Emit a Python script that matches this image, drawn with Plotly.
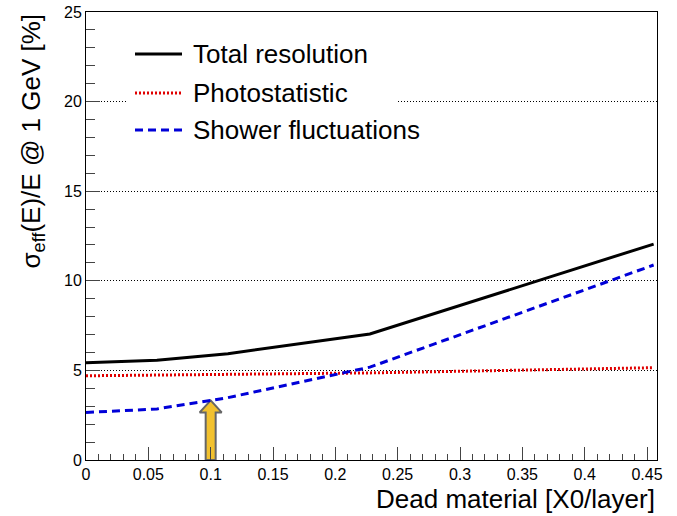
import numpy as np
import plotly.graph_objects as go

# Dead material per layer, in units of X0
dead_material = [0.0, 0.0569, 0.1138, 0.2277, 0.4553]

# Energy resolution contributions at 1 GeV [%]
total_resolution = [5.42, 5.57, 5.93, 7.03, 12.05]
photostatistic = [4.70, 4.74, 4.78, 4.86, 5.15]
shower_fluctuations = [2.65, 2.85, 3.48, 5.18, 10.88]

series_names = ["Total resolution", "Photostatistic", "Shower fluctuations"]

# Marked working point
marker_x = 0.1

x_range = [0, 0.458]
y_range = [0, 25]

W, H = 677, 516
ML, MR, MT, MB = 86, 20, 12, 56
PW, PH = W - ML - MR, H - MT - MB

FONT = "Liberation Sans, Arial, Helvetica, sans-serif"


def px_x(px):
    """page pixel -> paper x"""
    return (px - ML) / PW


def px_y(py):
    """page pixel -> paper y"""
    return (H - MB - py) / PH


x_per_px = (x_range[1] - x_range[0]) / PW
y_per_px = (y_range[1] - y_range[0]) / PH

styles = [
    dict(color="black", width=3, dash="solid"),
    dict(color="#E00000", width=3, dash="2px,2px"),
    dict(color="#0000D8", width=3, dash="8px,5px"),
]
values = [total_resolution, photostatistic, shower_fluctuations]

fig = go.Figure()

# Block arrow pointing up at the chosen dead-material value
tip = float(np.interp(marker_x, dead_material, shower_fluctuations))
hs = 5 * x_per_px
hw = 11 * x_per_px
hh = 12 * y_per_px
ax = [marker_x - hs, marker_x - hs, marker_x - hw, marker_x, marker_x + hw,
      marker_x + hs, marker_x + hs, marker_x - hs]
ay = [0, tip - hh, tip - hh, tip, tip - hh, tip - hh, 0, 0]
fig.add_trace(go.Scatter(
    x=ax, y=ay, mode="lines", fill="toself", fillcolor="#F2C12E",
    line=dict(color="#666666", width=2), showlegend=False, hoverinfo="skip",
))

for name, vals, st in zip(series_names, values, styles):
    fig.add_trace(go.Scatter(
        x=dead_material, y=vals, mode="lines", name=name,
        line=dict(color=st["color"], width=st["width"], dash=st["dash"]),
        showlegend=False,
    ))

# Legend drawn as a white panel with line samples and labels
shapes = [dict(type="rect", xref="paper", yref="paper",
               x0=px_x(127), x1=px_x(397), y0=px_y(150), y1=px_y(30),
               fillcolor="white", line=dict(width=0), layer="above")]
annotations = []
row_y = [54, 93, 130]
for name, st, ry in zip(series_names, styles, row_y):
    shapes.append(dict(type="line", xref="paper", yref="paper",
                       x0=px_x(135), x1=px_x(182), y0=px_y(ry), y1=px_y(ry),
                       line=dict(color=st["color"], width=st["width"], dash=st["dash"]),
                       layer="above"))
    annotations.append(dict(text=name, xref="paper", yref="paper",
                            x=px_x(191), y=px_y(ry), xanchor="left", yanchor="middle",
                            showarrow=False, font=dict(size=26, color="black", family=FONT)))

# Axis titles
annotations.append(dict(text="Dead material [X0/layer]", xref="paper", yref="paper",
                        x=1.0, y=px_y(499), xanchor="right", yanchor="middle",
                        showarrow=False, font=dict(size=26, color="black", family=FONT)))
annotations.append(dict(text="σ<sub>eff</sub>(E)/E @ 1 GeV [%]", xref="paper", yref="paper",
                        x=px_x(32), y=1.0, xanchor="center", yanchor="top", textangle=-90,
                        showarrow=False, font=dict(size=26, color="black", family=FONT)))

fig.update_layout(
    width=W, height=H,
    margin=dict(l=ML, r=MR, t=MT, b=MB, pad=0, autoexpand=False),
    paper_bgcolor="white", plot_bgcolor="white",
    font=dict(family=FONT, size=16, color="black"),
    shapes=shapes, annotations=annotations,
    showlegend=False,
)
fig.update_xaxes(
    range=x_range, dtick=0.05, tick0=0, tickformat="~g", automargin=False,
    showgrid=False, zeroline=False,
    showline=True, linecolor="black", linewidth=1, mirror=True,
    ticks="inside", ticklen=13, tickcolor="#444444", tickwidth=1,
    minor=dict(dtick=0.01, ticks="inside", ticklen=6, tickcolor="#444444", showgrid=False),
    tickfont=dict(size=16, family=FONT, color="black"),
)
fig.update_yaxes(
    range=y_range, dtick=5, tick0=0, automargin=False,
    showgrid=True, gridcolor="black", gridwidth=1, griddash="1px,2px",
    zeroline=False,
    showline=True, linecolor="black", linewidth=1, mirror=True,
    ticks="inside", ticklen=14, tickcolor="#444444", tickwidth=1,
    minor=dict(dtick=1, ticks="inside", ticklen=9, tickcolor="#444444", showgrid=False),
    tickfont=dict(size=16, family=FONT, color="black"),
)

fig.write_html("out.html")
